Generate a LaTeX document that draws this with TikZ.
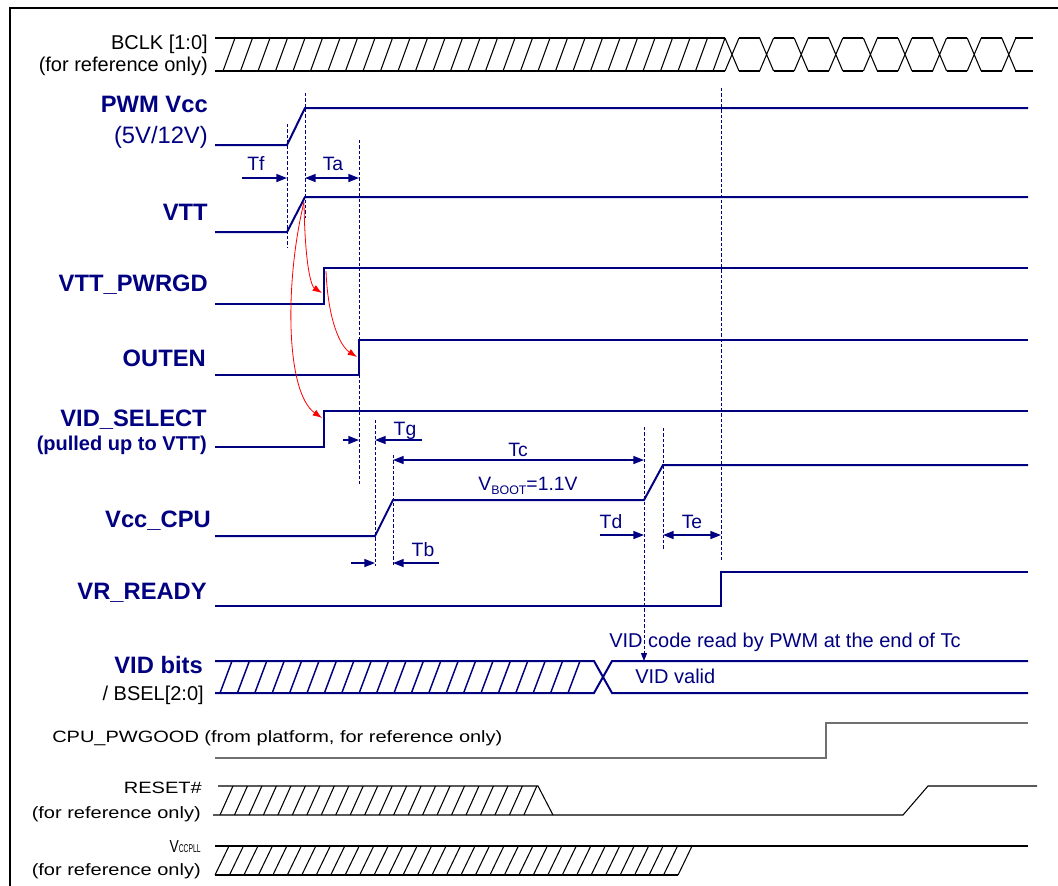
\documentclass[tikz,border=0pt]{standalone}
\usepackage{fontspec}
\setmainfont{Liberation Sans}
\usetikzlibrary{arrows.meta}
\definecolor{navy}{RGB}{0,0,128}
\definecolor{pgray}{RGB}{112,112,112}
\begin{document}
\begin{tikzpicture}[x=0.75pt,y=-0.75pt,
  lbl/.style={anchor=base east, inner sep=0pt, font=\fontsize{15}{18}\selectfont},
  blbl/.style={lbl, text=navy, font=\fontsize{17.8}{20}\selectfont\bfseries},
  tlbl/.style={anchor=base, inner sep=0pt, text=navy, font=\fontsize{14.5}{17}\selectfont},
  sig/.style={navy, line width=1.5pt, line join=miter},
  hatchn/.style={navy, line width=1.1pt},
  bus/.style={black, line width=0.8pt},
  guide/.style={navy, line width=0.75pt, dash pattern=on 2.5pt off 1.5pt},
  tarr/.style={navy, line width=1.1pt, -{Triangle[length=8pt,width=6pt]}},
  tdarr/.style={navy, line width=1.1pt, {Triangle[length=8pt,width=6pt]}-{Triangle[length=8pt,width=6pt]}},
  rarr/.style={red, line width=0.6pt, -{Latex[length=7pt,width=5pt]}},
]
\useasboundingbox (0,0) rectangle (1058,886);
% frame
\draw[line width=1.5pt] (10,886) -- (10,8) -- (1058,8);

% ---------- labels ----------
\node[lbl] (bclk) at (208,49.5) {BCLK [1:0]};
\node[lbl] (bclkr) at (208,71) {(for reference only)};
\node[blbl] (pwm) at (208,112.5) {PWM Vcc};
\node[lbl, text=navy, font=\fontsize{17.8}{20}\selectfont] (pwmv) at (208,143) {(5V/12V)};
\node[blbl] (vtt) at (208,220) {VTT};
\node[blbl] (pwrgd) at (208,291) {VTT\_PWRGD};
\node[blbl] (outen) at (206,366) {OUTEN};
\node[blbl] (vidsel) at (207,426) {VID\_SELECT};
\node[lbl, text=navy, font=\fontsize{15}{18}\selectfont\bfseries] (pulled) at (207,450) {(pulled up to VTT)};
\node[blbl] (vcccpu) at (211,527) {Vcc\_CPU};
\node[blbl] (vrready) at (207,599) {VR\_READY};
\node[blbl] (vidbits) at (203,673) {VID bits};
\node[lbl] (bsel) at (204,700) {/ BSEL[2:0]};
\node[anchor=base west, inner sep=0pt, font=\fontsize{15}{18}\selectfont] (pwgood) at (52,742) {\scalebox{1}[0.82]{CPU\_PWGOOD (from platform, for reference only)}};
\node[lbl] (reset) at (202,793) {\scalebox{1}[0.82]{RESET\#}};
\node[lbl] (resetr) at (201,818) {\scalebox{1}[0.82]{(for reference only)}};
\node[lbl] (vccpll) at (201,852) {\scalebox{0.8}[1]{\fontsize{13}{15}\selectfont V}\scalebox{0.6}[1]{\fontsize{8.5}{10}\selectfont CCPLL}};
\node[lbl] (vccpllr) at (201,875) {\scalebox{1}[0.82]{(for reference only)}};

% ---------- BCLK ----------
\draw[bus] (215,38) -- (725,38);
\draw[bus] (215,71) -- (725,71);
\foreach \k in {0,...,28} { \draw[bus] ({223+17.5*\k},71) -- ({235+17.5*\k},38); }
\foreach \i in {0,...,8} {
  \pgfmathsetmacro\c{732+34.6*\i}
  \draw[bus] ({\c-7},38) -- ({\c+7},71) ({\c-7},71) -- ({\c+7},38);
}
\foreach \i in {0,...,7} {
  \pgfmathsetmacro\c{732+34.6*\i}
  \draw[bus] ({\c+7},38) -- ({\c+27.6},38) ({\c+7},71) -- ({\c+27.6},71);
}
\draw[bus] (1015.2,38) -- (1033,38) (1015.2,71) -- (1033,71);

% ---------- navy signals ----------
\draw[sig] (215,145) -- (287,145) -- (305,108) -- (1028,108);
\draw[sig] (215,232) -- (287,232) -- (305,197) -- (1028,197);
\draw[sig] (215,304) -- (324,304) -- (324,268) -- (1028,268);
\draw[sig] (215,375) -- (359,375) -- (359,340) -- (1028,340);
\draw[sig] (215,447) -- (324,447) -- (324,411) -- (1028,411);
\draw[sig] (215,536) -- (375,536) -- (393,500) -- (644,500) -- (663,465) -- (1028,465);
\draw[sig] (215,606) -- (721,606) -- (721,572) -- (1028,572);
% VID bits bus
\draw[sig] (215,661) -- (594,661) -- (612,693) -- (1028,693);
\draw[sig] (215,693) -- (594,693) -- (612,661) -- (1028,661);
\foreach \k in {0,...,20} { \draw[hatchn] ({220+17.4*\k},693) -- ({232+17.4*\k},661); }

% ---------- reference-only signals ----------
\draw[pgray, line width=1.2pt] (215,758) -- (826,758) -- (826,723) -- (1028,723);
\draw[bus] (218,786) -- (538,786) -- (553,815);
\draw[bus] (213,815) -- (903,815) -- (928,786) -- (1037,786);
\foreach \k in {0,...,21} { \draw[bus] ({220+14.47*\k},815) -- ({233+14.47*\k},786); }
\draw[bus] (215,846) -- (1028,846);
\draw[bus] (215,875) -- (678,875);
\foreach \k in {0,...,32} { \draw[bus] ({215+14.47*\k},875) -- ({229+14.47*\k},846); }

% ---------- dashed guides ----------
\draw[guide] (287,124) -- (287,248);
\draw[guide] (305,93) -- (305,218);
\draw[guide] (359,140) -- (359,484);
\draw[guide] (375,420) -- (375,566);
\draw[guide] (393,455) -- (393,567);
\draw[guide, -{Triangle[length=6pt,width=4.5pt]}] (644,427) -- (644,661);
\draw[guide] (663,428) -- (663,550);
\draw[guide] (721,88) -- (721,560);

% ---------- timing arrows ----------
\draw[tarr] (242,178) -- (287,178);
\draw[tdarr] (305,178) -- (359,178);
\draw[tarr] (343,440) -- (359,440);
\draw[tarr] (422,440) -- (375,440);
\draw[tdarr] (393,460) -- (644,460);
\draw[tarr] (351,563) -- (375,563);
\draw[tarr] (439,563) -- (393,563);
\draw[tarr] (600,535) -- (644,535);
\draw[tdarr] (663,535) -- (721,535);

\node[tlbl] (tf) at (256,170) {Tf};
\node[tlbl] (ta) at (333,170) {Ta};
\node[tlbl] (tg) at (405,435) {Tg};
\node[tlbl] (tc) at (518,456) {Tc};
\node[tlbl] (tb) at (423,556) {Tb};
\node[tlbl] (td) at (611,528) {Td};
\node[tlbl] (te) at (692,528) {Te};
\node[tlbl] (vboot) at (528,490) {V\raisebox{-3pt}{\fontsize{9.3}{11}\selectfont BOOT}=1.1V};
\node[anchor=base west, inner sep=0pt, text=navy, font=\fontsize{15}{18}\selectfont] (vidcode) at (609,647) {VID code read by PWM at the end of Tc};
\node[anchor=base west, inner sep=0pt, text=navy, font=\fontsize{15}{18}\selectfont] (vidvalid) at (635,683) {VID valid};

% ---------- red causality arrows ----------
\draw[rarr] (304,203) .. controls (305,265) and (311,286) .. (322,293);
\draw[rarr] (326,271) .. controls (328,320) and (340,346) .. (357,357);
\draw[rarr] (304,202) .. controls (285,280) and (285,392) .. (322,418);
\end{tikzpicture}
\end{document}
